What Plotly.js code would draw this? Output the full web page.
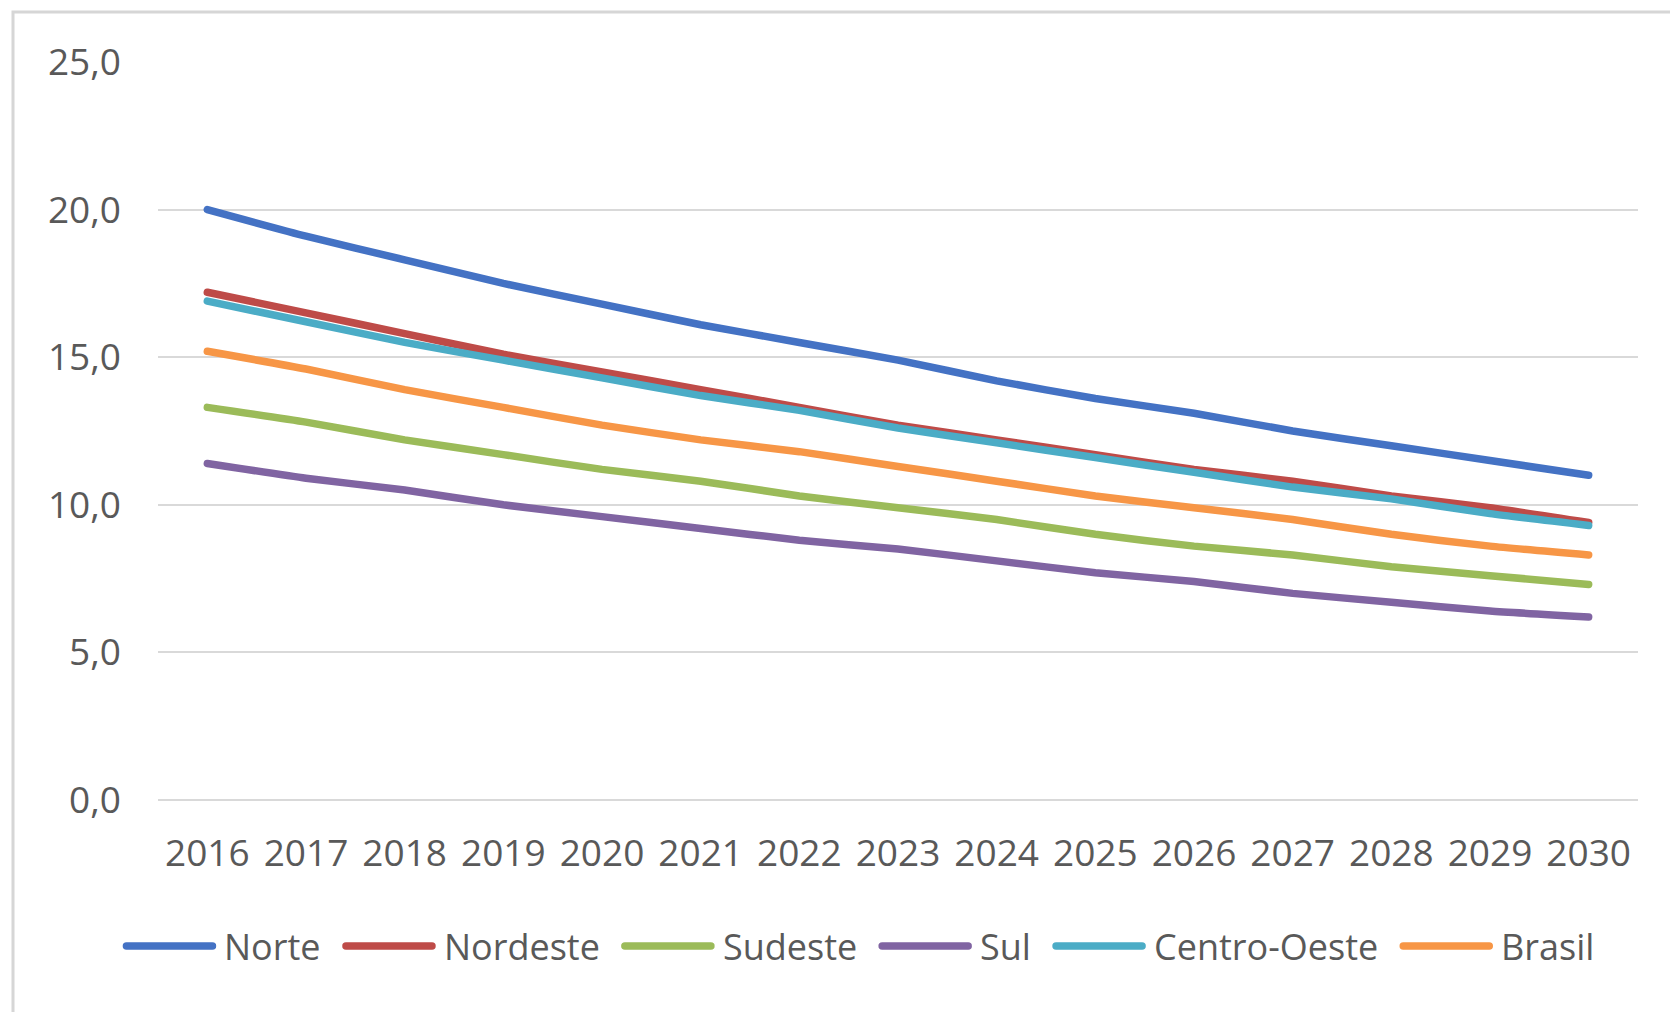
<!DOCTYPE html>
<html>
<head>
<meta charset="utf-8">
<script src="https://cdn.plot.ly/plotly-3.0.1.min.js"></script>
<style>
  html, body { margin: 0; padding: 0; background: #ffffff; }
  #chart { width: 1670px; height: 1012px; }
  .scatterlayer path.js-line { stroke-linecap: round; }
  .shapelayer path { stroke-linecap: round; }
</style>
</head>
<body>
<div id="chart"></div>
<script>
// ---- Data ----
const years = [2016, 2017, 2018, 2019, 2020, 2021, 2022, 2023, 2024, 2025, 2026, 2027, 2028, 2029, 2030];
const seriesNames = ["Norte", "Nordeste", "Sudeste", "Sul", "Centro-Oeste", "Brasil"];
const norte       = [20.0, 19.1, 18.3, 17.5, 16.8, 16.1, 15.5, 14.9, 14.2, 13.6, 13.1, 12.5, 12.0, 11.5, 11.0];
const nordeste    = [17.2, 16.5, 15.8, 15.1, 14.5, 13.9, 13.3, 12.7, 12.2, 11.7, 11.2, 10.8, 10.3, 9.9, 9.4];
const sudeste     = [13.3, 12.8, 12.2, 11.7, 11.2, 10.8, 10.3, 9.9, 9.5, 9.0, 8.6, 8.3, 7.9, 7.6, 7.3];
const sul         = [11.4, 10.9, 10.5, 10.0, 9.6, 9.2, 8.8, 8.5, 8.1, 7.7, 7.4, 7.0, 6.7, 6.4, 6.2];
const centroOeste = [16.9, 16.2, 15.5, 14.9, 14.3, 13.7, 13.2, 12.6, 12.1, 11.6, 11.1, 10.6, 10.2, 9.7, 9.3];
const brasil      = [15.2, 14.6, 13.9, 13.3, 12.7, 12.2, 11.8, 11.3, 10.8, 10.3, 9.9, 9.5, 9.0, 8.6, 8.3];
const yTicks = [0, 5, 10, 15, 20, 25];

// ---- Styles ----
const colors = ["#4472C4", "#BE4B48", "#9BBB59", "#8064A2", "#4BACC6", "#F79646"];
const values = [norte, nordeste, sudeste, sul, centroOeste, brasil];
// draw order so that the overlapping lines stack like the reference
const drawOrder = [3, 2, 5, 1, 4, 0];

const W = 1670, H = 1012;
const M = { l: 158, r: 32, t: 62, b: 212 };
const PW = W - M.l - M.r, PH = H - M.t - M.b;
const px2x = p => (p - M.l) / PW;
const px2y = p => (H - M.b - p) / PH;

const FONT = "Open Sans, Noto Sans, sans-serif";
const FS = 37;
const LFS = 36;
const TXT = "#595959";
const LW = 7.5;

const traces = drawOrder.map(i => ({
  type: "scatter",
  mode: "lines",
  name: seriesNames[i],
  x: years,
  y: values[i],
  line: { color: colors[i], width: LW, shape: "spline", smoothing: 0.5 },
  showlegend: false,
  hoverinfo: "x+y+name"
}));

// ---- Custom legend (long line samples like Excel) ----
const ctx = document.createElement("canvas").getContext("2d");
ctx.font = LFS + "px 'Open Sans'";
const sampleLen = 92, sampleGap = 7, itemGap = 24;
const widths = seriesNames.map(n => ctx.measureText(n).width);
let total = 0;
widths.forEach((w, i) => { total += sampleLen + sampleGap + w + (i < widths.length - 1 ? itemGap : 0); });
const legendCenterX = 858, legendY = 946;
let cursor = legendCenterX - total / 2;
const shapes = [];
const annotations = [];
seriesNames.forEach((n, i) => {
  shapes.push({
    type: "line", xref: "paper", yref: "paper",
    x0: px2x(cursor + 3), x1: px2x(cursor + sampleLen - 3),
    y0: px2y(legendY), y1: px2y(legendY),
    line: { color: colors[i], width: LW }
  });
  annotations.push({
    xref: "paper", yref: "paper",
    x: px2x(cursor + sampleLen + sampleGap), y: px2y(legendY),
    xanchor: "left", yanchor: "middle",
    text: n, showarrow: false,
    font: { family: FONT, size: LFS, color: TXT }
  });
  cursor += sampleLen + sampleGap + widths[i] + itemGap;
});

// Chart-area frame (top and left edges visible in the reference)
shapes.push({
  type: "path", xref: "paper", yref: "paper",
  path: "M " + px2x(W + 10) + " " + px2y(12) + " L " + px2x(13) + " " + px2y(12) + " L " + px2x(13) + " " + px2y(H + 10),
  line: { color: "#D6D6D6", width: 3 }
});

const layout = {
  width: W, height: H,
  margin: M,
  paper_bgcolor: "#ffffff",
  plot_bgcolor: "#ffffff",
  separators: ",.",
  showlegend: false,
  font: { family: FONT, size: FS, color: TXT },
  xaxis: {
    type: "linear",
    range: [2015.5, 2030.5],
    tickvals: years,
    ticktext: years.map(String),
    showgrid: false,
    zeroline: false,
    showline: false,
    ticks: "",
    ticklabelstandoff: 28,
    tickfont: { family: FONT, size: FS, color: TXT },
    fixedrange: true
  },
  yaxis: {
    range: [0, 25],
    tickvals: yTicks,
    tickformat: ".1f",
    showgrid: true,
    gridcolor: "#D9D9D9",
    gridwidth: 2,
    zeroline: true,
    zerolinecolor: "#D9D9D9",
    zerolinewidth: 2,
    showline: false,
    ticks: "",
    ticklabelstandoff: 36,
    tickfont: { family: FONT, size: FS, color: TXT },
    fixedrange: true
  },
  shapes: shapes,
  annotations: annotations
};

Plotly.newPlot("chart", traces, layout, { displayModeBar: false, staticPlot: true });
</script>
</body>
</html>
